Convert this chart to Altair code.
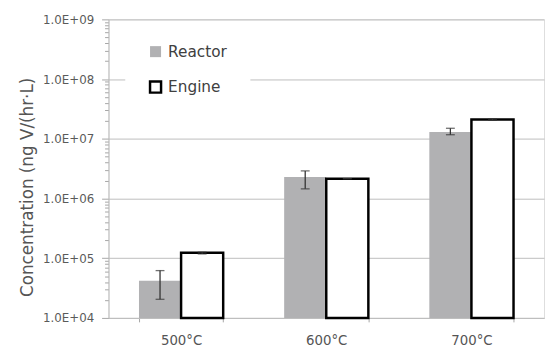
import altair as alt
import pandas as pd

temps = ["500°C", "600°C", "700°C"]
series = ["Reactor", "Engine"]
reactor = [4.2e4, 2.3e6, 1.3e7]
reactor_lo = [2.05e4, 1.45e6, 1.17e7]
reactor_hi = [6.2e4, 2.9e6, 1.5e7]
engine = [1.23e5, 2.15e6, 2.1e7]
engine_lo = [1.18e5, 2.15e6, 2.04e7]
engine_hi = [1.26e5, 2.15e6, 2.14e7]
decades = [1e4, 1e5, 1e6, 1e7, 1e8, 1e9]
y_title = "Concentration (ng V/(hr·L)"

rows = []
for i, t in enumerate(temps):
    rows.append({"temp": t, "series": "Reactor", "value": reactor[i], "lo": reactor_lo[i], "hi": reactor_hi[i]})
    rows.append({"temp": t, "series": "Engine", "value": engine[i], "lo": engine_lo[i], "hi": engine_hi[i]})
df = pd.DataFrame(rows)

tick_vals = []
for d in decades:
    tick_vals.append(d)
    if d < 1e9:
        for m in range(2, 10):
            tick_vals.append(d * m)

is_major = "abs(log(datum.value)/LN10 - round(log(datum.value)/LN10)) < 0.001"
FONT = "DejaVu Sans"
TXT = "#555555"
GRID = "#bdbdbd"
TICK = "#a6a6a6"

yscale = alt.Scale(type="log", domain=[1e4, 1e9], nice=False)
xscale = alt.Scale(paddingInner=0.42, paddingOuter=0.21)

x_enc = alt.X("temp:N", sort=temps, scale=xscale,
              axis=alt.Axis(title=None, labelAngle=0, tickBand="extent", grid=False,
                            domainColor=GRID, tickColor=TICK, tickSize=4,
                            labelFont=FONT, labelFontSize=13.5, labelColor=TXT, labelPadding=12))
xoff = alt.XOffset("series:N", sort=series, scale=alt.Scale(paddingInner=0, paddingOuter=0))

y_axis = alt.Axis(
    title=y_title, values=tick_vals,
    labelExpr="(" + is_major + ") ? '1.0E+' + (round(log(datum.value)/LN10) < 10 ? '0' : '') + round(log(datum.value)/LN10) : ''",
    labelOverlap=False, labelFont=FONT, labelFontSize=12, labelColor="#5a5a5a", labelPadding=8,
    tickSize={"condition": {"test": is_major, "value": 7}, "value": 4},
    tickColor=TICK, domainColor=GRID,
    grid=True, gridColor=GRID, gridWidth=1,
    gridOpacity={"condition": {"test": is_major, "value": 1}, "value": 0},
    titleFont=FONT, titleFontSize=17, titleFontWeight="normal", titleColor=TXT,
    titleX=-82, titleY=170, titleBaseline="middle", titleAlign="center",
)

base = alt.Chart(df)

bars = base.mark_bar(strokeWidth=2.5, strokeJoin="miter").encode(
    x=x_enc,
    xOffset=xoff,
    y=alt.Y("value:Q", scale=yscale, axis=y_axis),
    y2=alt.datum(1e4),
    fill=alt.Fill("series:N", sort=series, scale=alt.Scale(domain=series, range=["#b1b1b3", "#ffffff"]),
                  legend=alt.Legend(title=None, orient="none", legendX=17, legendY=2, padding=23,
                                    fillColor="white", symbolType="square", symbolSize=125,
                                    symbolStrokeWidth=2.5, labelFont=FONT, labelFontSize=15.5,
                                    labelColor="#404040", labelOffset=5, rowPadding=14)),
    stroke=alt.Stroke("series:N", sort=series, scale=alt.Scale(domain=series, range=["transparent", "#000000"]),
                      legend=alt.Legend(title=None, orient="none", legendX=17, legendY=2)),
)

rules = base.mark_rule(color="#333333", strokeWidth=1.3).encode(
    x=alt.X("temp:N", sort=temps, scale=xscale),
    xOffset=xoff,
    y=alt.Y("lo:Q", scale=yscale),
    y2="hi:Q",
)
caps_lo = base.mark_tick(color="#333333", thickness=1.3, size=9, orient="horizontal").encode(
    x=alt.X("temp:N", sort=temps, scale=xscale),
    xOffset=xoff,
    y=alt.Y("lo:Q", scale=yscale),
)
caps_hi = base.mark_tick(color="#333333", thickness=1.3, size=9, orient="horizontal").encode(
    x=alt.X("temp:N", sort=temps, scale=xscale),
    xOffset=xoff,
    y=alt.Y("hi:Q", scale=yscale),
)

chart = alt.layer(bars, rules, caps_lo, caps_hi).properties(
    width=442, height=303,
    autosize=alt.AutoSizeParams(type="none"),
    padding={"left": 102, "top": 9, "right": 1, "bottom": 29},
).configure_view(stroke=None).configure(background="white")

chart.save("out.html", embed_options={"renderer": "svg", "actions": False})
